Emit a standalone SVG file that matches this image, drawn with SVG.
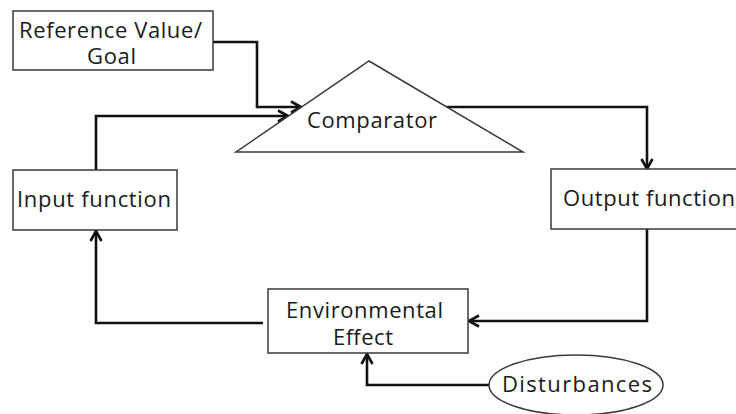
<svg xmlns="http://www.w3.org/2000/svg" width="736" height="414" viewBox="0 0 736 414">
<defs>
<style>
.box{fill:#fff;stroke:#3a3a3a;stroke-width:1.5}
.lbl{font-family:"Open Sans","Noto Sans",sans-serif;font-size:22px;fill:#1a1a1a;text-anchor:middle}
.con{fill:none;stroke:#111;stroke-width:2.6;stroke-linejoin:miter}
</style>
<marker id="arr" markerUnits="userSpaceOnUse" markerWidth="14" markerHeight="14" viewBox="0 0 14 14" refX="12" refY="7" orient="auto">
<path d="M2,1.5 L12,7 L2,12.5" fill="none" stroke="#111" stroke-width="2.6"/>
</marker>
</defs>
<rect width="736" height="414" fill="#fff"/>
<g id="connectors">
<path class="con" d="M213,42 H257 V107 H301" marker-end="url(#arr)"/>
<path class="con" d="M96,170 V116 H288" marker-end="url(#arr)"/>
<path class="con" d="M447,107 H647 V169" marker-end="url(#arr)"/>
<path class="con" d="M647,229 V321 H469" marker-end="url(#arr)"/>
<path class="con" d="M263,323 H96 V231" marker-end="url(#arr)"/>
<path class="con" d="M490,385 H367 V354" marker-end="url(#arr)"/>
</g>
<g id="reference">
<rect class="box" x="13" y="11" width="200" height="59"/>
<text class="lbl" x="110.5" y="38" textLength="183">Reference Value/</text>
<text class="lbl" x="111.5" y="64" textLength="49">Goal</text>
</g>
<g id="comparator">
<polygon class="box" points="369,61 523,152 236,152"/>
<text class="lbl" x="372" y="128" textLength="130">Comparator</text>
</g>
<g id="input">
<rect class="box" x="13" y="170" width="164" height="60"/>
<text class="lbl" x="94" y="207" textLength="154">Input function</text>
</g>
<g id="output">
<rect class="box" x="551" y="169" width="200" height="60"/>
<text class="lbl" x="649" y="206" textLength="172">Output function</text>
</g>
<g id="environment">
<rect class="box" x="268" y="289" width="200" height="64"/>
<text class="lbl" x="364.5" y="318" textLength="157">Environmental</text>
<text class="lbl" x="363" y="345" textLength="60">Effect</text>
</g>
<g id="disturbances">
<ellipse class="box" cx="576" cy="385" rx="87" ry="30"/>
<text class="lbl" x="577" y="392" textLength="150">Disturbances</text>
</g>
</svg>
